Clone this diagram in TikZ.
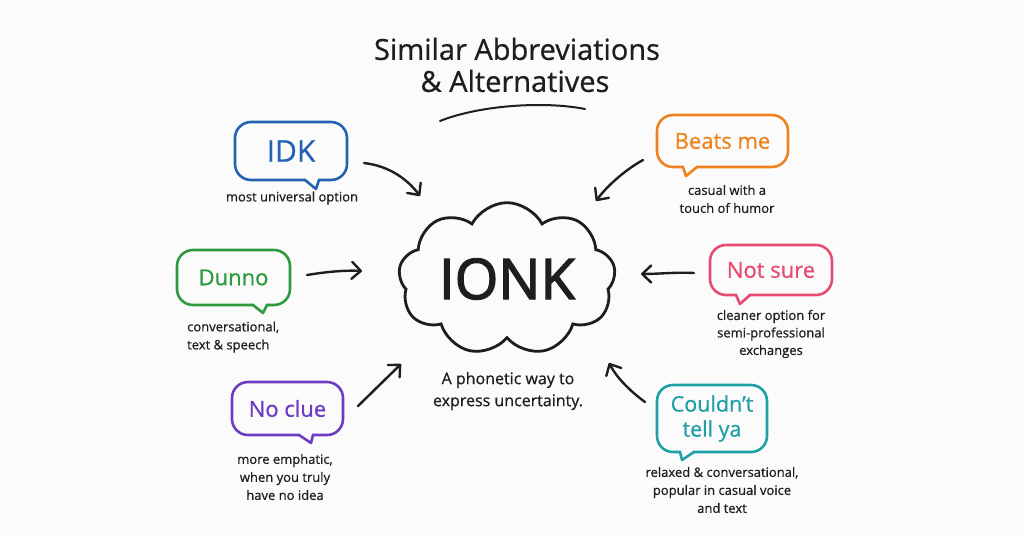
\documentclass[tikz,border=0pt]{standalone}
\usepackage{fontspec}
\setmainfont{Open Sans}[FakeBold=0.7]
\newfontfamily\bigfont{Open Sans}[FakeBold=2.4]
\usetikzlibrary{shapes.symbols,arrows.meta}
\definecolor{bgc}{HTML}{FBFBFB}
\definecolor{ink}{HTML}{1E1E1E}
\definecolor{cblue}{HTML}{2262B0}
\definecolor{corange}{HTML}{F0821E}
\definecolor{cgreen}{HTML}{2E9A3E}
\definecolor{cpink}{HTML}{E64B72}
\definecolor{cpurple}{HTML}{6E3CC2}
\definecolor{cteal}{HTML}{1FA0A6}
\newcommand{\bubtail}[6]{%
  \fill[bgc] (#2+1.3,#4-1.6) rectangle (#3-1.3,#4+1.6);
  \draw[#1,line width=2.6pt,line cap=round,line join=round] (#2,#4) -- (#5,#6) -- (#3,#4);
}
\begin{document}
\begin{tikzpicture}[x=1pt,y=-1pt,
  bubble/.style={draw=#1, text=#1, line width=2.6pt, rounded corners=16pt, fill=bgc,
    inner sep=0pt, align=center, font=\fontsize{22}{27}\selectfont},
  capt/.style={font=\fontsize{13}{18}\selectfont, align=center, text=ink, inner sep=0pt},
  arr/.style={draw=ink, line width=2.4pt, line cap=round,
    -{Straight Barb[length=9pt,width=17pt,line cap=round,line join=round]}},
]
\useasboundingbox[fill=bgc] (0,0) rectangle (1024,536);

% title
\node[font=\fontsize{29}{30}\selectfont, text=ink, inner sep=0pt] (title1) at (517,49) {Similar Abbreviations};
\node[font=\fontsize{29}{30}\selectfont, text=ink, inner sep=0pt] (title2) at (515,81) {\& Alternatives};
\draw[ink, line width=2pt, line cap=round] (440,121) .. controls (480,105) and (545,101) .. (585,109);

% centre
\node[cloud, draw=ink, line width=2.8pt, cloud puffs=9, cloud puff arc=125, aspect=1.6,
  minimum width=217, minimum height=137, inner sep=0pt, text=ink,
  font=\bigfont\fontsize{56}{60}\selectfont] (ionk) at (507,279) {IONK};
\node[font=\fontsize{16}{22}\selectfont, align=center, text=ink, inner sep=0pt] (desc) at (508,391)
  {A phonetic way to\\express uncertainty.};

% bubbles
\node[bubble=cblue, minimum width=112, minimum height=58, font=\fontsize{30}{30}\selectfont] (idk) at (291,151) {IDK};
\bubtail{cblue}{305}{319}{180}{316}{189}
\node[capt] (idkc) at (292,198) {most universal option};

\node[bubble=cgreen, minimum width=113, minimum height=55] (dunno) at (233.5,277.5) {Dunno};
\bubtail{cgreen}{253}{267}{305}{263}{313}
\node[capt, align=left, anchor=west] (dunnoc) at (187,337) {conversational,\\text \& speech};

\node[bubble=corange, minimum width=131, minimum height=52] (beats) at (722.5,141) {Beats me};
\bubtail{corange}{683}{697}{167}{686}{176}
\node[capt] (beatsc) at (727,199) {casual with a\\touch of humor};

\node[bubble=cpink, minimum width=122, minimum height=50] (notsure) at (771,270) {Not sure};
\bubtail{cpink}{736}{750}{295}{740}{304}
\node[capt, font=\fontsize{13}{17.5}\selectfont] (notsurec) at (771,334) {cleaner option for\\semi-professional\\exchanges};

\node[bubble=cpurple, minimum width=111, minimum height=53] (noclue) at (287.5,408.5) {No clue};
\bubtail{cpurple}{299}{313}{435}{311}{443}
\node[capt] (nocluec) at (285,477) {more emphatic,\\when you truly\\have no idea};

\node[bubble=cteal, minimum width=110, minimum height=67, font=\fontsize{21.5}{25}\selectfont] (could) at (712,418.5) {Couldn't\\tell ya};
\bubtail{cteal}{680}{694}{452}{682}{460}
\node[capt] (couldc) at (722,490) {relaxed \& conversational,\\popular in casual voice\\and text};

% arrows
\coordinate (a1s) at (364,163); \coordinate (a1e) at (420,196);
\coordinate (a2s) at (643,160); \coordinate (a2e) at (596,201);
\coordinate (a3s) at (307,275); \coordinate (a3e) at (362,271);
\coordinate (a4s) at (694,273); \coordinate (a4e) at (641,274);
\coordinate (a5s) at (358,406); \coordinate (a5e) at (401,364);
\coordinate (a6s) at (645,402); \coordinate (a6e) at (609,363);
\draw[arr] (a1s) .. controls (390,166) and (408,180) .. (a1e);
\draw[arr] (a2s) .. controls (625,170) and (607,186) .. (a2e);
\draw[arr] (a3s) .. controls (325,272) and (345,270) .. (a3e);
\draw[arr] (a4s) .. controls (676,272) and (658,274) .. (a4e);
\draw[arr] (a5s) -- (a5e);
\draw[arr] (a6s) .. controls (630,391) and (617,378) .. (a6e);
\end{tikzpicture}
\end{document}
